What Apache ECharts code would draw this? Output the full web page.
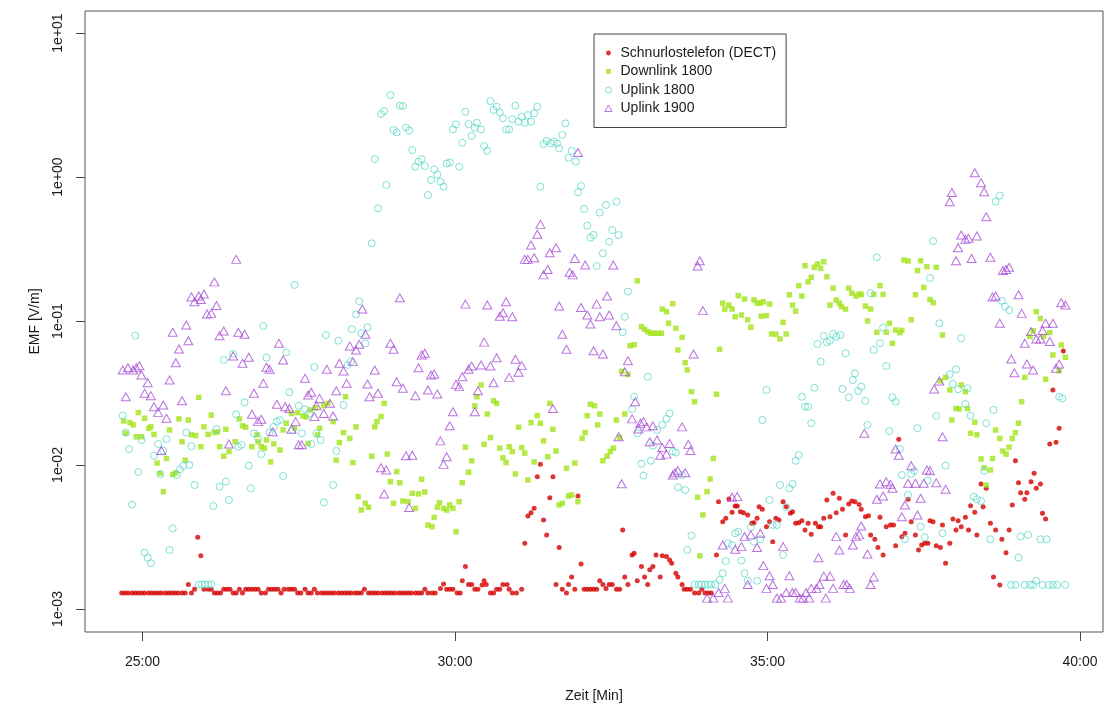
<!DOCTYPE html>
<html>
<head>
<meta charset="utf-8">
<script src="https://cdn.jsdelivr.net/npm/echarts@6/dist/echarts.min.js"></script>
<style>
  html, body { margin: 0; padding: 0; background: #ffffff; }
  #chart { width: 1105px; height: 711px; }
</style>
</head>
<body>
<div id="chart"></div>
<script>
// Field measurements: time in seconds of the recording, EMF in V/m.
const seriesNames = ['Schnurlostelefon (DECT)', 'Downlink 1800', 'Uplink 1800', 'Uplink 1900'];

const timeTicks = [1500, 1800, 2100, 2400];   // 25:00 ... 40:00
const emfTicks = [1e-3, 1e-2, 1e-1, 1, 10];

const dect = [
[1480,1.29e-3],[1483,1.29e-3],[1486,1.29e-3],[1490,1.29e-3],[1493,1.29e-3],[1496,1.29e-3],[1499,1.29e-3],[1502,1.29e-3],[1506,1.29e-3],[1509,1.29e-3],
[1512,1.29e-3],[1515,1.29e-3],[1518,1.29e-3],[1522,1.29e-3],[1525,1.29e-3],[1528,1.29e-3],[1531,1.29e-3],[1534,1.29e-3],[1538,1.29e-3],[1541,1.29e-3],
[1544,1.48e-3],[1547,1.29e-3],[1550,1.37e-3],[1553,3.15e-3],[1556,2.34e-3],[1559,1.37e-3],[1563,1.37e-3],[1566,1.37e-3],[1569,1.29e-3],[1572,1.29e-3],
[1575,1.29e-3],[1578,1.37e-3],[1581,1.37e-3],[1584,1.37e-3],[1587,1.29e-3],[1590,1.29e-3],[1593,1.37e-3],[1596,1.29e-3],[1599,1.37e-3],[1602,1.37e-3],
[1605,1.37e-3],[1608,1.37e-3],[1611,1.37e-3],[1614,1.29e-3],[1618,1.29e-3],[1621,1.37e-3],[1624,1.37e-3],[1627,1.37e-3],[1630,1.37e-3],[1633,1.29e-3],
[1636,1.37e-3],[1640,1.37e-3],[1643,1.37e-3],[1646,1.37e-3],[1649,1.29e-3],[1652,1.29e-3],[1656,1.37e-3],[1659,1.29e-3],[1662,1.29e-3],[1665,1.37e-3],
[1668,1.29e-3],[1672,1.29e-3],[1675,1.29e-3],[1678,1.29e-3],[1681,1.29e-3],[1684,1.29e-3],[1688,1.29e-3],[1691,1.29e-3],[1694,1.29e-3],[1697,1.29e-3],
[1700,1.29e-3],[1704,1.29e-3],[1707,1.29e-3],[1710,1.29e-3],[1713,1.37e-3],[1717,1.29e-3],[1720,1.29e-3],[1723,1.29e-3],[1726,1.29e-3],[1730,1.29e-3],
[1733,1.29e-3],[1736,1.29e-3],[1739,1.29e-3],[1742,1.29e-3],[1746,1.29e-3],[1749,1.29e-3],[1752,1.29e-3],[1755,1.29e-3],[1758,1.29e-3],[1762,1.29e-3],
[1765,1.29e-3],[1768,1.29e-3],[1771,1.37e-3],[1774,1.29e-3],[1778,1.29e-3],[1781,1.29e-3],[1786,1.39e-3],[1789,1.49e-3],[1792,1.37e-3],[1795,1.37e-3],
[1798,1.37e-3],[1802,1.29e-3],[1805,1.29e-3],[1807,1.57e-3],[1810,1.97e-3],[1813,1.48e-3],[1816,1.48e-3],[1819,1.37e-3],[1822,1.37e-3],[1826,1.47e-3],
[1828,1.57e-3],[1830,1.48e-3],[1834,1.29e-3],[1837,1.29e-3],[1840,1.37e-3],[1843,1.37e-3],[1846,1.48e-3],[1850,1.48e-3],[1852,1.37e-3],[1855,1.29e-3],
[1859,1.29e-3],[1864,1.37e-3],[1867,2.86e-3],[1870,4.42e-3],[1873,4.66e-3],[1876,5.0e-3],[1879,8.3e-3],[1882,1.01e-2],[1885,4.15e-3],[1888,3.27e-3],
[1891,5.93e-3],[1894,8.3e-3],[1897,1.48e-3],[1900,2.67e-3],[1903,1.37e-3],[1907,1.29e-3],[1909,1.48e-3],[1912,1.67e-3],[1915,1.37e-3],[1918,6.09e-3],
[1921,2.05e-3],[1924,1.37e-3],[1927,1.37e-3],[1930,1.37e-3],[1933,1.37e-3],[1936,1.37e-3],[1939,1.57e-3],[1942,1.48e-3],[1945,1.39e-3],[1948,1.48e-3],
[1951,1.48e-3],[1955,1.37e-3],[1958,1.37e-3],[1961,3.54e-3],[1963,1.67e-3],[1966,1.48e-3],[1970,2.37e-3],[1972,2.44e-3],[1975,1.57e-3],[1979,1.97e-3],
[1982,1.67e-3],[1985,1.48e-3],[1987,1.87e-3],[1990,1.97e-3],[1993,2.37e-3],[1997,1.67e-3],[1999,2.34e-3],[2003,2.31e-3],[2006,2.19e-3],[2008,2.08e-3],
[2012,1.77e-3],[2014,1.67e-3],[2018,1.48e-3],[2020,1.37e-3],[2023,1.37e-3],[2026,1.37e-3],[2030,1.29e-3],[2034,1.29e-3],[2037,1.37e-3],[2040,1.29e-3],
[2043,1.29e-3],[2046,1.29e-3],[2051,2.37e-3],[2053,5.56e-3],[2057,4.04e-3],[2060,4.26e-3],[2063,5.81e-3],[2066,4.69e-3],[2069,5.19e-3],[2071,5.19e-3],
[2074,4.74e-3],[2077,4.66e-3],[2081,4.5e-3],[2085,3.94e-3],[2087,3.97e-3],[2090,4.26e-3],[2092,5.13e-3],[2095,4.93e-3],[2099,3.73e-3],[2102,4.04e-3],
[2105,2.93e-3],[2108,4.26e-3],[2111,4.15e-3],[2115,5.56e-3],[2118,5.13e-3],[2122,4.62e-3],[2124,4.74e-3],[2127,3.94e-3],[2130,3.97e-3],[2133,4.1e-3],
[2136,3.54e-3],[2139,3.94e-3],[2142,3.31e-3],[2146,3.94e-3],[2149,3.73e-3],[2151,3.73e-3],[2154,4.26e-3],[2157,5.71e-3],[2160,4.37e-3],[2163,6.36e-3],
[2166,4.66e-3],[2169,5.87e-3],[2172,4.93e-3],[2175,3.27e-3],[2178,5.36e-3],[2181,5.62e-3],[2184,5.56e-3],[2188,5.31e-3],[2190,4.93e-3],[2194,4.37e-3],
[2197,4.44e-3],[2199,3.27e-3],[2203,3.05e-3],[2206,2.67e-3],[2208,4.33e-3],[2211,2.37e-3],[2214,3.73e-3],[2218,3.83e-3],[2221,3.83e-3],[2223,2.75e-3],
[2226,1.51e-2],[2229,3.18e-3],[2232,3.36e-3],[2235,5.78e-3],[2238,4.04e-3],[2242,3.27e-3],[2245,2.57e-3],[2248,2.78e-3],[2251,2.86e-3],[2254,2.86e-3],
[2256,4.1e-3],[2259,4.04e-3],[2262,2.75e-3],[2266,2.67e-3],[2268,3.83e-3],[2271,2.08e-3],[2275,2.86e-3],[2278,4.22e-3],[2281,3.54e-3],[2283,4.1e-3],
[2286,3.73e-3],[2290,4.33e-3],[2293,3.54e-3],[2295,5.22e-3],[2299,4.69e-3],[2301,3.27e-3],[2305,7.38e-3],[2307,5.13e-3],[2310,6.89e-3],[2314,3.94e-3],
[2317,1.67e-3],[2319,3.54e-3],[2323,1.47e-3],[2325,3.05e-3],[2329,2.46e-3],[2332,3.54e-3],[2335,5.28e-3],[2338,1.07e-2],[2341,7.53e-3],[2343,6.42e-3],
[2347,5.78e-3],[2349,6.42e-3],[2353,7.66e-3],[2356,8.76e-3],[2358,6.89e-3],[2362,7.38e-3],[2364,4.62e-3],[2367,4.22e-3],[2371,1.40e-2],[2374,3.32e-2],
[2377,1.44e-2],[2380,1.80e-2],[2384,6.19e-2]
];

const downlink1800 = [
[1482,2.02e-2],[1484,1.66e-2],[1488,1.97e-2],[1491,1.90e-2],[1494,1.57e-2],[1496,2.31e-2],[1499,1.57e-2],[1502,2.11e-2],[1506,1.80e-2],[1508,1.84e-2],
[1511,1.63e-2],[1514,1.03e-2],[1517,8.76e-3],[1520,6.52e-3],[1523,1.11e-2],[1526,1.75e-2],[1529,8.6e-3],[1532,8.84e-3],[1535,2.09e-2],[1538,1.45e-2],
[1541,1.08e-2],[1544,2.05e-2],[1547,1.62e-2],[1551,1.60e-2],[1554,2.95e-2],[1556,1.34e-2],[1559,1.84e-2],[1563,1.63e-2],[1566,2.22e-2],[1569,1.68e-2],
[1572,1.70e-2],[1574,1.34e-2],[1578,1.15e-2],[1580,1.77e-2],[1583,1.24e-2],[1589,1.45e-2],[1593,2.09e-2],[1596,1.87e-2],[1599,1.83e-2],[1605,1.34e-2],
[1610,1.62e-2],[1611,1.45e-2],[1614,1.34e-2],[1617,1.31e-2],[1619,1.49e-2],[1623,1.05e-2],[1626,1.40e-2],[1632,1.27e-2],[1635,1.75e-2],[1638,1.95e-2],
[1643,2.28e-2],[1646,1.80e-2],[1649,2.31e-2],[1654,2.19e-2],[1657,2.16e-2],[1659,1.41e-2],[1661,2.41e-2],[1666,2.50e-2],[1668,1.62e-2],[1670,1.80e-2],
[1674,2.58e-2],[1678,2.68e-2],[1683,2.0e-2],[1686,1.08e-2],[1689,1.43e-2],[1693,1.68e-2],[1695,2.98e-2],[1699,1.53e-2],[1702,1.04e-2],[1705,1.84e-2],
[1707,6.03e-3],[1710,4.87e-3],[1714,5.42e-3],[1717,5.09e-3],[1720,1.15e-2],[1723,1.84e-2],[1725,2.0e-2],[1729,2.17e-2],[1732,2.68e-2],[1735,1.19e-2],
[1738,7.66e-3],[1741,5.42e-3],[1744,8.99e-3],[1747,7.53e-3],[1750,5.62e-3],[1755,5.56e-3],[1759,6.36e-3],[1762,5.0e-3],[1765,6.3e-3],[1768,7.96e-3],
[1771,6.49e-3],[1774,3.83e-3],[1778,3.73e-3],[1780,4.33e-3],[1783,5.09e-3],[1785,5.47e-3],[1789,5.0e-3],[1792,4.87e-3],[1795,5.28e-3],[1798,5.0e-3],
[1801,3.44e-3],[1804,5.56e-3],[1807,7.53e-3],[1810,1.33e-2],[1813,8.9e-3],[1816,1.07e-2],[1819,2.57e-2],[1821,2.98e-2],[1825,3.59e-2],[1828,1.39e-2],
[1831,2.26e-2],[1834,1.55e-2],[1837,2.79e-2],[1840,2.68e-2],[1843,1.31e-2],[1846,1.12e-2],[1849,1.04e-2],[1852,1.34e-2],[1855,1.24e-2],[1858,8.66e-3],
[1861,1.83e-2],[1864,1.32e-2],[1867,1.21e-2],[1870,7.87e-3],[1873,1.97e-2],[1876,1.05e-2],[1879,2.20e-2],[1882,1.95e-2],[1885,1.47e-2],[1889,1.14e-2],
[1891,2.68e-2],[1894,1.77e-2],[1897,1.25e-2],[1900,5.28e-3],[1903,5.42e-3],[1907,9.5e-3],[1909,6.09e-3],[1912,6.19e-3],[1915,1.03e-2],[1918,5.56e-3],
[1922,1.53e-2],[1925,1.68e-2],[1927,2.20e-2],[1930,2.64e-2],[1934,2.58e-2],[1937,1.90e-2],[1939,2.26e-2],[1942,1.07e-2],[1946,1.15e-2],[1949,1.24e-2],
[1952,1.31e-2],[1955,2.05e-2],[1958,1.55e-2],[1960,4.47e-2],[1963,2.26e-2],[1966,4.26e-2],[1968,6.74e-2],[1972,6.84e-2],[1975,1.90e-1],[1979,9.13e-2],
[1982,8.76e-2],[1985,8.44e-2],[1988,8.22e-2],[1991,8.22e-2],[1995,8.22e-2],[1998,8.22e-2],[1999,1.21e-1],[2003,1.16e-1],[2005,9.64e-2],[2009,1.32e-1],
[2012,8.89e-2],[2014,6.29e-2],[2018,7.7e-2],[2021,5.13e-2],[2023,4.57e-2],[2027,3.23e-2],[2030,2.75e-2],[2033,5.97e-3],[2035,2.34e-3],[2038,4.5e-3],
[2042,6.52e-3],[2045,7.99e-3],[2048,1.11e-2],[2051,3.1e-2],[2054,6.36e-2],[2057,1.33e-1],[2059,1.21e-1],[2063,1.29e-1],[2066,1.21e-1],[2069,1.07e-1],
[2072,1.50e-1],[2075,1.10e-1],[2078,1.42e-1],[2081,1.02e-1],[2084,9.05e-2],[2087,1.40e-1],[2090,1.33e-1],[2093,1.33e-1],[2094,1.08e-1],[2096,1.36e-1],
[2099,1.09e-1],[2102,1.31e-1],[2104,8.12e-2],[2108,8.1e-2],[2112,7.5e-2],[2115,9.79e-2],[2118,8.12e-2],[2121,1.52e-1],[2124,1.29e-1],[2127,1.17e-1],
[2130,1.76e-1],[2133,1.49e-1],[2136,2.42e-1],[2139,1.87e-1],[2142,2.01e-1],[2145,2.36e-1],[2148,2.49e-1],[2151,2.32e-1],[2154,2.58e-1],[2157,2.03e-1],
[2160,1.29e-1],[2163,1.69e-1],[2166,1.40e-1],[2169,1.33e-1],[2171,1.26e-1],[2175,1.21e-1],[2178,1.69e-1],[2181,1.56e-1],[2185,1.49e-1],[2188,1.54e-1],
[2190,1.53e-1],[2194,1.27e-1],[2196,1.0e-1],[2199,1.21e-1],[2202,1.53e-1],[2205,8.35e-2],[2208,1.76e-1],[2211,1.53e-1],[2214,8.35e-2],[2217,9.64e-2],
[2220,7.0e-2],[2223,8.66e-2],[2227,8.3e-2],[2229,8.6e-2],[2231,2.65e-1],[2235,2.61e-1],[2238,1.02e-1],[2242,1.52e-1],[2244,2.24e-1],[2247,2.62e-1],
[2250,1.71e-1],[2253,2.38e-1],[2256,1.41e-1],[2259,1.34e-1],[2262,2.36e-1],[2266,3.83e-2],[2268,7.99e-2],[2271,4.06e-2],[2275,3.32e-2],[2277,2.05e-2],
[2281,2.47e-2],[2284,2.45e-2],[2286,3.59e-2],[2290,3.23e-2],[2292,2.47e-2],[2295,1.66e-2],[2299,1.98e-2],[2301,1.62e-2],[2305,1.10e-2],[2308,9.56e-3],
[2310,7.26e-3],[2314,9.23e-3],[2316,1.11e-2],[2319,1.75e-2],[2323,1.53e-2],[2326,1.25e-2],[2329,1.19e-2],[2332,1.33e-2],[2335,1.53e-2],[2338,1.68e-2],
[2341,1.95e-2],[2344,2.75e-2],[2347,4.06e-2],[2352,7.8e-2],[2355,8.56e-2],[2358,1.16e-1],[2362,1.04e-1],[2365,7.8e-2],[2367,3.94e-2],[2371,8.3e-2],
[2374,5.81e-2],[2380,4.52e-2],[2382,6.81e-2],[2386,5.6e-2]
];

const uplink1800 = [
[1481,2.20e-2],[1484,1.68e-2],[1487,1.29e-2],[1490,5.3e-3],[1493,7.91e-2],[1496,8.94e-3],[1499,1.49e-2],[1502,2.46e-3],[1505,2.27e-3],[1508,2.08e-3],
[1511,1.16e-2],[1515,1.40e-2],[1517,8.6e-3],[1520,1.26e-2],[1523,1.51e-2],[1526,2.57e-3],[1529,3.63e-3],[1533,8.52e-3],[1536,9.34e-3],[1539,9.84e-3],
[1542,1.68e-2],[1545,1.0e-2],[1547,1.35e-2],[1550,7.26e-3],[1554,1.48e-3],[1557,1.48e-3],[1560,1.48e-3],[1563,1.48e-3],[1566,1.48e-3],[1568,5.19e-3],
[1571,1.77e-2],[1574,7.07e-3],[1578,5.36e-2],[1580,7.66e-3],[1583,5.71e-3],[1587,5.9e-2],[1590,2.25e-2],[1592,1.34e-2],[1595,1.38e-2],[1598,2.72e-2],
[1602,9.89e-3],[1604,6.89e-3],[1607,1.66e-2],[1611,1.53e-2],[1614,1.19e-2],[1616,9.23e-2],[1619,5.56e-2],[1622,1.68e-2],[1626,1.84e-2],[1629,2.0e-2],
[1632,2.05e-2],[1635,8.39e-3],[1638,6.06e-2],[1641,3.2e-2],[1644,1.75e-2],[1646,1.78e-1],[1650,2.58e-2],[1653,1.66e-2],[1656,2.44e-2],[1660,2.28e-2],
[1662,1.40e-2],[1665,4.79e-2],[1667,1.66e-2],[1671,1.49e-2],[1674,5.5e-3],[1676,7.99e-2],[1683,7.26e-3],[1686,1.25e-2],[1688,7.3e-2],[1693,2.61e-2],
[1697,4.95e-2],[1700,5.22e-2],[1701,8.76e-2],[1705,1.11e-1],[1708,1.37e-1],[1710,8.22e-2],[1714,7.0e-2],[1716,9.05e-2],[1720,3.46e-1],[1723,1.33],
[1726,6.06e-1],[1729,2.74],[1732,2.87],[1734,8.8e-1],[1738,3.71],[1741,2.12],[1744,2.04],[1747,3.13],[1750,3.11],[1753,2.21],
[1756,2.1],[1759,1.54],[1762,1.18],[1765,1.28],[1768,1.33],[1771,1.19],[1774,7.5e-1],[1777,9.53e-1],[1780,1.13],[1783,1.04],
[1786,9.28e-1],[1789,8.56e-1],[1792,1.24],[1795,1.26],[1798,2.14],[1801,2.32],[1804,1.18],[1807,1.73],[1810,2.84],[1813,2.33],
[1816,1.93],[1819,2.2],[1821,2.38],[1825,2.14],[1828,1.64],[1831,1.52],[1834,3.37],[1837,2.92],[1840,3.08],[1843,2.81],
[1846,2.56],[1849,2.14],[1852,2.14],[1855,2.52],[1858,3.13],[1861,2.42],[1864,2.62],[1867,2.38],[1870,2.69],[1873,2.42],
[1876,2.77],[1879,3.08],[1882,8.56e-1],[1885,1.69],[1888,1.78],[1892,1.71],[1895,1.76],[1898,1.71],[1900,1.58],[1903,1.96],
[1906,2.36],[1909,1.36],[1912,1.52],[1916,1.28],[1918,7.83e-1],[1921,8.66e-1],[1924,6.0e-1],[1927,4.59e-1],[1930,3.79e-1],[1933,3.96e-1],
[1936,2.41e-1],[1939,5.65e-1],[1942,2.95e-1],[1945,6.39e-1],[1948,3.55e-1],[1951,4.28e-1],[1955,6.74e-1],[1957,3.96e-1],[1961,8.35e-2],[1963,1.07e-1],
[1966,1.6e-1],[1970,2.44e-2],[1972,2.98e-2],[1975,1.66e-2],[1979,1.02e-2],[1981,8.44e-3],[1985,4.1e-2],[1988,1.07e-2],[1990,1.36e-2],[1994,1.75e-2],
[1999,1.9e-2],[2003,2.09e-2],[2006,2.28e-2],[2009,1.24e-2],[2012,1.22e-2],[2014,7.0e-3],[2018,8.52e-3],[2021,6.7e-3],[2023,2.57e-3],[2027,3.23e-3],
[2030,1.48e-3],[2034,1.48e-3],[2037,1.48e-3],[2040,1.48e-3],[2043,1.48e-3],[2046,1.48e-3],[2050,1.48e-3],[2054,1.59e-3],[2057,1.77e-3],[2060,2.15e-3],
[2062,2.86e-3],[2066,2.78e-3],[2069,3.36e-3],[2072,3.44e-3],[2075,2.17e-3],[2078,1.77e-3],[2081,1.57e-3],[2084,3.7e-3],[2087,2.93e-3],[2090,1.57e-3],
[2093,3.05e-3],[2095,2.05e-2],[2099,3.32e-2],[2102,5.71e-3],[2105,3.83e-3],[2109,3.83e-3],[2112,7.26e-3],[2115,2.37e-3],[2118,5.09e-3],[2121,6.89e-3],
[2124,7.38e-3],[2127,1.07e-2],[2130,1.17e-2],[2133,2.98e-2],[2136,2.54e-2],[2139,2.54e-2],[2142,1.95e-2],[2145,3.44e-2],[2148,6.92e-2],[2151,5.22e-2],
[2154,7.87e-2],[2157,7.13e-2],[2160,7.3e-2],[2163,8.12e-2],[2166,7.8e-2],[2170,7.99e-2],[2172,3.37e-2],[2175,5.97e-2],[2178,2.95e-2],[2182,3.89e-2],
[2184,4.33e-2],[2187,3.27e-2],[2190,3.5e-2],[2194,2.79e-2],[2196,1.9e-2],[2199,1.56e-1],[2202,6.29e-2],[2205,2.77e-1],[2208,7.0e-2],[2211,8.99e-2],
[2214,4.87e-2],[2217,1.72e-2],[2220,2.95e-2],[2223,2.75e-2],[2227,1.29e-2],[2229,8.52e-3],[2232,3.05e-3],[2235,6.19e-3],[2238,8.66e-3],[2241,9.09e-3],
[2244,1.8e-2],[2247,3.73e-3],[2251,3.15e-3],[2254,7.8e-3],[2256,1.99e-1],[2259,3.59e-1],[2262,2.19e-2],[2265,9.64e-2],[2268,3.36e-3],[2271,9.89e-3],
[2275,4.28e-2],[2278,3.65e-2],[2281,4.62e-2],[2283,3.36e-2],[2286,7.6e-2],[2290,2.65e-2],[2292,3.41e-2],[2295,2.2e-2],[2298,6.03e-3],[2301,5.78e-3],
[2305,5.62e-3],[2308,9.13e-3],[2310,1.95e-2],[2314,3.05e-3],[2317,2.41e-2],[2319,6.74e-1],[2323,7.44e-1],[2325,1.38e-1],[2328,1.26e-1],[2332,1.19e-1],
[2334,1.47e-3],[2338,1.47e-3],[2341,2.27e-3],[2343,3.18e-3],[2347,1.47e-3],[2350,3.27e-3],[2352,1.47e-3],[2355,1.47e-3],[2358,1.57e-3],[2362,3.05e-3],
[2364,1.47e-3],[2368,3.05e-3],[2370,1.47e-3],[2374,1.47e-3],[2378,1.47e-3],[2380,2.98e-2],[2383,2.9e-2],[2386,1.47e-3]
];

const uplink1900 = [
[1481,4.57e-2],[1484,2.98e-2],[1486,4.74e-2],[1491,4.57e-2],[1494,4.74e-2],[1497,4.89e-2],[1499,4.22e-2],[1502,3.15e-2],[1505,3.73e-2],[1508,3.03e-2],
[1511,2.54e-2],[1515,2.32e-2],[1518,1.26e-2],[1520,2.61e-2],[1523,2.11e-2],[1526,3.89e-2],[1529,8.35e-2],[1532,5.13e-2],[1535,6.39e-2],[1538,2.79e-2],
[1542,9.38e-2],[1544,7.3e-2],[1547,1.47e-1],[1550,1.36e-1],[1554,1.49e-1],[1556,1.41e-1],[1559,1.54e-1],[1562,1.12e-1],[1566,1.13e-1],[1569,1.87e-1],
[1571,1.28e-1],[1574,7.91e-2],[1578,8.52e-2],[1580,3.28e-2],[1583,1.40e-2],[1587,5.71e-2],[1590,2.68e-1],[1592,8.35e-2],[1596,5.09e-2],[1598,8.09e-2],
[1602,5.6e-2],[1605,2.25e-2],[1607,3.15e-2],[1611,2.0e-2],[1614,2.08e-2],[1616,3.69e-2],[1619,4.77e-2],[1622,4.62e-2],[1625,1.70e-2],[1629,2.64e-2],
[1631,7.0e-2],[1635,5.36e-2],[1637,2.54e-2],[1641,2.47e-2],[1643,1.77e-2],[1647,2.0e-2],[1650,1.38e-2],[1653,1.38e-2],[1656,4.0e-2],[1659,3.06e-2],
[1662,3.2e-2],[1665,2.17e-2],[1667,2.58e-2],[1670,2.9e-2],[1674,2.28e-2],[1677,4.62e-2],[1680,2.68e-2],[1683,2.19e-2],[1686,3.28e-2],[1689,5.09e-2],
[1693,4.5e-2],[1696,3.69e-2],[1699,6.7e-2],[1702,5.22e-2],[1705,6.29e-2],[1708,6.89e-2],[1711,1.21e-1],[1714,8.09e-2],[1716,3.65e-2],[1718,2.98e-2],
[1723,4.57e-2],[1726,3.15e-2],[1729,9.56e-3],[1732,6.29e-3],[1734,9.23e-3],[1738,7.0e-2],[1741,6.36e-2],[1744,3.79e-2],[1747,1.45e-1],[1750,3.41e-2],
[1753,1.16e-2],[1756,5.06e-3],[1759,1.17e-2],[1762,3.03e-2],[1765,4.74e-2],[1768,5.81e-2],[1771,5.97e-2],[1774,3.32e-2],[1777,4.22e-2],[1780,4.28e-2],
[1783,3.11e-2],[1786,1.47e-2],[1789,1.01e-2],[1792,1.14e-2],[1795,1.87e-2],[1798,2.34e-2],[1801,3.63e-2],[1804,3.5e-2],[1807,4.1e-2],[1810,1.31e-1],
[1813,4.62e-2],[1816,4.87e-2],[1819,2.34e-2],[1822,3.28e-2],[1825,4.95e-2],[1828,7.13e-2],[1831,1.29e-1],[1834,4.87e-2],[1837,3.73e-2],[1840,5.56e-2],
[1843,1.08e-1],[1846,1.14e-1],[1849,1.36e-1],[1852,4.06e-2],[1855,1.07e-1],[1858,5.42e-2],[1861,4.4e-2],[1864,4.9e-2],[1867,2.68e-1],[1870,2.68e-1],
[1873,3.37e-1],[1876,2.75e-1],[1879,4.0e-1],[1882,4.69e-1],[1885,2.09e-1],[1889,2.28e-1],[1891,2.98e-1],[1894,2.47e-2],[1897,3.23e-1],[1900,1.27e-1],
[1903,8.09e-2],[1907,6.36e-2],[1910,2.18e-1],[1913,2.09e-1],[1915,2.72e-1],[1918,1.48],[1921,1.24e-1],[1925,2.45e-1],[1927,1.10e-1],[1930,9.53e-2],
[1933,6.22e-2],[1936,1.31e-1],[1939,1.07e-1],[1942,5.9e-2],[1946,1.49e-1],[1948,1.10e-1],[1952,2.45e-1],[1955,9.28e-2],[1957,1.57e-2],[1960,7.4e-3],
[1963,4.44e-2],[1966,5.3e-2],[1970,2.09e-2],[1973,2.75e-2],[1976,1.78e-2],[1978,1.95e-2],[1981,2.0e-2],[1984,1.84e-2],[1987,1.45e-2],[1990,1.87e-2],
[1994,1.49e-2],[1997,1.17e-2],[1999,1.32e-2],[2003,1.19e-2],[2006,1.41e-2],[2009,8.52e-3],[2011,8.84e-3],[2014,9.13e-3],[2018,1.84e-2],[2021,8.84e-3],
[2024,1.39e-2],[2026,1.26e-2],[2029,5.9e-2],[2033,2.41e-1],[2035,2.62e-1],[2038,1.18e-1],[2042,1.19e-3],[2048,1.19e-3],[2053,1.3e-3],[2057,2.78e-3],
[2059,1.39e-3],[2062,1.19e-3],[2066,5.97e-3],[2069,2.6e-3],[2071,6.03e-3],[2075,2.71e-3],[2078,3.18e-3],[2081,1.48e-3],[2084,3.27e-3],[2090,2.67e-3],
[2093,3.36e-3],[2096,2.0e-3],[2099,1.39e-3],[2102,1.70e-3],[2105,1.48e-3],[2109,1.19e-3],[2113,1.19e-3],[2115,2.71e-3],[2118,1.3e-3],[2121,1.70e-3],
[2124,1.3e-3],[2127,1.3e-3],[2131,1.19e-3],[2134,1.19e-3],[2137,1.3e-3],[2140,1.19e-3],[2142,1.39e-3],[2147,1.39e-3],[2149,2.27e-3],[2150,1.48e-3],
[2154,1.69e-3],[2156,1.19e-3],[2160,1.69e-3],[2163,1.39e-3],[2166,3.18e-3],[2169,2.57e-3],[2173,1.48e-3],[2176,1.48e-3],[2179,1.39e-3],[2182,2.78e-3],
[2185,3.18e-3],[2188,3.27e-3],[2190,3.77e-3],[2193,1.66e-2],[2196,2.41e-3],[2199,1.48e-3],[2202,1.67e-3],[2205,5.78e-3],[2208,7.38e-3],[2211,6.09e-3],
[2214,7.66e-3],[2218,7.35e-3],[2220,6.89e-3],[2223,1.29e-2],[2226,1.17e-2],[2229,4.37e-3],[2232,5.28e-3],[2235,7.46e-3],[2238,9.89e-3],[2242,7.46e-3],
[2244,4.5e-3],[2247,5.87e-3],[2250,7.46e-3],[2253,9.23e-3],[2256,9.13e-3],[2260,3.37e-2],[2262,7.53e-3],[2265,3.83e-2],[2268,1.57e-2],[2271,6.78e-3],
[2275,6.74e-1],[2277,7.8e-1],[2281,2.62e-1],[2283,3.23e-1],[2286,3.96e-1],[2290,3.69e-1],[2293,3.75e-1],[2296,2.72e-1],[2299,1.07],[2301,3.89e-1],
[2305,9.13e-1],[2308,7.91e-1],[2310,5.3e-1],[2314,2.77e-1],[2316,1.47e-1],[2319,1.49e-1],[2323,9.64e-2],[2326,2.24e-1],[2329,2.28e-1],[2332,2.36e-1],
[2334,5.45e-2],[2337,4.37e-2],[2341,1.52e-1],[2344,1.13e-1],[2347,7.0e-2],[2349,5.03e-2],[2353,8.44e-2],[2355,4.57e-2],[2358,7.5e-2],[2362,7.5e-2],
[2364,8.6e-2],[2367,9.64e-2],[2371,7.2e-2],[2374,9.64e-2],[2377,4.69e-2],[2380,5.03e-2],[2382,1.34e-1],[2386,1.29e-1]
];

// "mm:ss" from seconds
function formatTime(s) {
  const m = Math.floor(s / 60);
  const r = Math.round(s - m * 60);
  return m + ':' + String(r).padStart(2, '0');
}
// R-style scientific labels: 1e-03, 1e+00, ...
function formatExp(v) {
  const e = Math.round(Math.log10(v));
  return '1e' + (e < 0 ? '-' : '+') + String(Math.abs(e)).padStart(2, '0');
}

const FONT = "'Liberation Sans', Arial, sans-serif";
const TEXT = '#1a1a1a';

// Legend marker shapes (small, centred inside a 14 x 8 legend cell)
const legendIcons = {
  dot: 'path://M7,4 m-2.4,0 a2.4,2.4 0 1,0 4.8,0 a2.4,2.4 0 1,0 -4.8,0 M0,0 L0.01,0 M14,8 L14.01,8',
  square: 'path://M4.6,1.6 L9.4,1.6 L9.4,6.4 L4.6,6.4 Z M0,0 L0.01,0 M14,8 L14.01,8',
  ring: 'path://M7,4 m-3,0 a3,3 0 1,0 6,0 a3,3 0 1,0 -6,0 M0,0 L0.01,0 M14,8 L14.01,8',
  tri: 'path://M7,0.6 L10.6,7 L3.4,7 Z M0,0 L0.01,0 M14,8 L14.01,8'
};

const chart = echarts.init(document.getElementById('chart'), null, { renderer: 'canvas' });

chart.setOption({
  animation: false,
  backgroundColor: '#ffffff',
  grid: {
    left: 85, right: 2, top: 11, bottom: 79,
    show: true, borderColor: '#555555', borderWidth: 1, backgroundColor: 'transparent'
  },
  xAxis: {
    type: 'value',
    min: 1444.8, max: 2422.1,
    axisLine: { show: false },
    splitLine: { show: false },
    axisTick: { show: true, length: 9, lineStyle: { color: '#444444' }, customValues: timeTicks },
    axisLabel: { customValues: timeTicks, formatter: formatTime, margin: 23, fontSize: 14, color: TEXT, fontFamily: FONT },
    name: 'Zeit [Min]',
    nameLocation: 'middle',
    nameGap: 57,
    nameTextStyle: { fontSize: 14, color: TEXT, fontFamily: FONT }
  },
  yAxis: {
    type: 'log', logBase: 10,
    min: 6.92e-4, max: 14.22,
    axisLine: { show: false },
    splitLine: { show: false },
    minorTick: { show: false },
    axisTick: { show: true, length: 9, lineStyle: { color: '#444444' }, customValues: emfTicks },
    axisLabel: { customValues: emfTicks, formatter: formatExp, rotate: 90, margin: 20, fontSize: 14, color: TEXT, fontFamily: FONT },
    name: 'EMF [V/m]',
    nameLocation: 'middle',
    nameGap: 43,
    nameRotate: 90,
    nameTextStyle: { fontSize: 14, color: TEXT, fontFamily: FONT }
  },
  legend: {
    orient: 'vertical',
    left: 594, top: 34,
    padding: [10, 10, 10, 7],
    itemGap: 0.5,
    itemWidth: 14, itemHeight: 8,
    borderColor: '#444444', borderWidth: 1,
    backgroundColor: '#ffffff',
    selectedMode: false,
    textStyle: { fontSize: 14, color: TEXT, fontFamily: FONT, lineHeight: 18 },
    data: [
      { name: seriesNames[0], icon: legendIcons.dot, itemStyle: { color: '#d40000', borderWidth: 0 } },
      { name: seriesNames[1], icon: legendIcons.square, itemStyle: { color: '#a3e41a', borderWidth: 0 } },
      { name: seriesNames[2], icon: legendIcons.ring, itemStyle: { color: 'rgba(0,0,0,0)', borderColor: '#5ed9c8', borderWidth: 1 } },
      { name: seriesNames[3], icon: legendIcons.tri, itemStyle: { color: 'rgba(0,0,0,0)', borderColor: '#a64fd6', borderWidth: 1 } }
    ]
  },
  series: [
    {
      name: seriesNames[0], type: 'scatter', data: dect,
      symbol: 'circle', symbolSize: 5, silent: true, z: 2,
      itemStyle: { color: '#d40000' }
    },
    {
      name: seriesNames[1], type: 'scatter', data: downlink1800,
      symbol: 'rect', symbolSize: 5.5, silent: true, z: 3,
      itemStyle: { color: '#a3e41a' }
    },
    {
      name: seriesNames[2], type: 'scatter', data: uplink1800,
      symbol: 'circle', symbolSize: 7, silent: true, z: 4,
      itemStyle: { color: 'rgba(0,0,0,0)', borderColor: '#5ed9c8', borderWidth: 1 }
    },
    {
      name: seriesNames[3], type: 'scatter', data: uplink1900,
      symbol: 'triangle', symbolSize: [9, 8], silent: true, z: 5,
      itemStyle: { color: 'rgba(0,0,0,0)', borderColor: '#a64fd6', borderWidth: 1 }
    }
  ]
});
</script>
</body>
</html>
